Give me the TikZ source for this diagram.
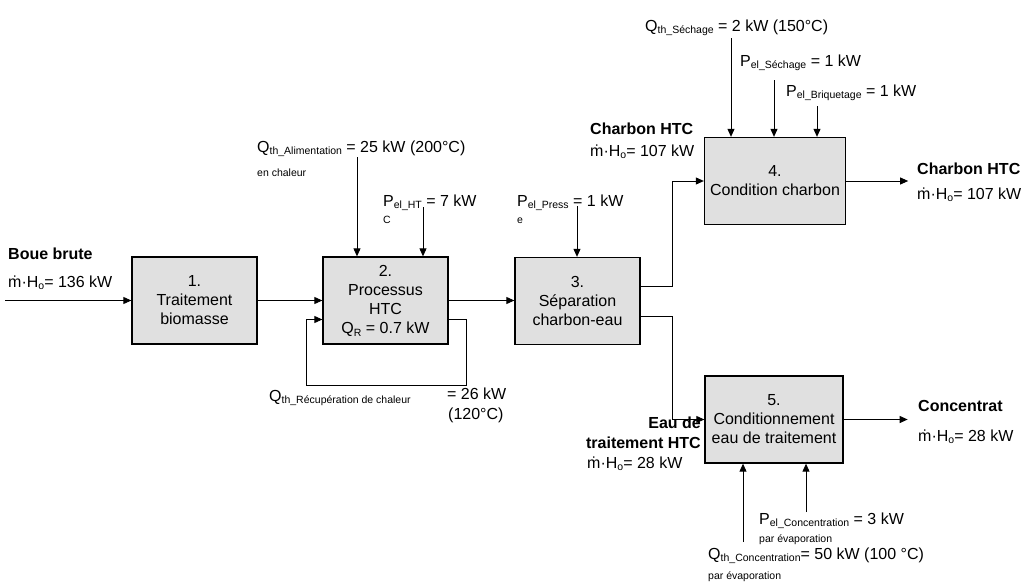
\documentclass[tikz,border=0pt]{standalone}
\usepackage{fontspec}
\setmainfont{Liberation Sans}
\usetikzlibrary{arrows.meta,calc}
\definecolor{boxgray}{HTML}{E0E0E0}
\newcommand\subtxt[1]{\raisebox{-0.35ex}{\fontsize{10.5}{12}\selectfont #1}}
\newcommand\mH{ṁ·H\subtxt{o}}

\begin{document}
\begin{tikzpicture}[
  x=1pt,y=-1pt,
  font=\fontsize{16}{19}\selectfont,
  proc/.style={draw=black,line width=1.3pt,fill=boxgray,align=center,inner sep=0pt,minimum width=125pt,minimum height=87pt},
  lbl/.style={anchor=base west,inner sep=0pt},
  flow/.style={lbl,font=\fontsize{16}{19}\selectfont\bfseries},
  note/.style={lbl,font=\fontsize{10.5}{12}\selectfont},
  arr/.style={-{Triangle[length=8pt,width=7pt]},line width=0.9pt}]
\useasboundingbox (0,0) rectangle (1027,581);
% process chain
\node[proc] (b1) at (194.5,300.5) {1.\\ Traitement\\ biomasse};
\node[proc] (b2) at (385.5,300.5) {2.\\ Processus\\ HTC\\ Q\subtxt{R} = 0.7 kW};
\node[proc] (b3) at (577.5,301) {3.\\ Séparation\\ charbon-eau};
\node[proc,minimum width=141pt] (b4) at (775,181) {4.\\ Condition charbon};
\node[proc,minimum width=138pt] (b5) at (774,419.5) {5.\\ Conditionnement\\ eau de traitement};
\coordinate (in) at (5,300.5);
\draw[arr] (in) -- (b1.west);
\draw[arr] (b1) -- (b2);
\draw[arr] (b2.east) -- (b2.east -| b3.west);
\draw[arr] ([yshift=15pt]b3.east) -- ++(32,0) |- (b4.west);
\draw[arr] ([yshift=-15pt]b3.east) -- ++(32,0) |- (b5.west);
\draw[arr] (b4.east) -- ++(62,0);
\draw[arr] (b5.east) -- ++(64,0);
% heat recovery loop
\draw[arr] ([yshift=-19pt]b2.east) -- ++(18,0) -- ++(0,66) -| ([xshift=-16pt,yshift=-19pt]b2.west) -- ([yshift=-19pt]b2.west);
\node[lbl] (qrec) at (269,401) {Q\subtxt{th\_Récupération de chaleur}};
\node[lbl] (qrecv) at (447,399) {= 26 kW};
\node[lbl] (qrect) at (448,419) {(120°C)};
% inputs
\node[flow] (boue) at (8,259) {Boue brute};
\node[lbl] (bouev) at (8,287) {\mH = 136 kW};
\coordinate (qa) at (357,157);
\coordinate (pa) at (423,207);
\coordinate (pp) at (577,206);
\draw[arr] (qa) -- (qa |- b2.north);
\draw[arr] (pa) -- (pa |- b2.north);
\draw[arr] (pp) -- (pp |- b3.north);
\node[lbl] (qal) at (257,152) {Q\subtxt{th\_Alimentation} = 25 kW (200°C)};
\node[note] (qal2) at (257,176) {en chaleur};
\node[lbl] (phtc) at (383,206) {P\subtxt{el\_HT} = 7 kW};
\node[note] (phtc2) at (383,223) {C};
\node[lbl] (ppr) at (517,206) {P\subtxt{el\_Press} = 1 kW};
\node[note] (ppr2) at (517,223) {e};
% coal branch
\node[flow] (coal1) at (590,134) {Charbon HTC};
\node[lbl] (coal1v) at (590,156) {\mH = 107 kW};
\coordinate (qs) at (731,38);
\coordinate (ps) at (774,80);
\coordinate (pb) at (817,106);
\draw[arr] (qs) -- (qs |- b4.north);
\draw[arr] (ps) -- (ps |- b4.north);
\draw[arr] (pb) -- (pb |- b4.north);
\node[lbl] (qsl) at (645,31) {Q\subtxt{th\_Séchage} = 2 kW (150°C)};
\node[lbl] (psl) at (740,66) {P\subtxt{el\_Séchage} = 1 kW};
\node[lbl] (pbl) at (786,96) {P\subtxt{el\_Briquetage} = 1 kW};
\node[flow] (coal2) at (917,174) {Charbon HTC};
\node[lbl] (coal2v) at (917,199) {\mH = 107 kW};
% water branch
\node[flow,anchor=east,align=right,font=\fontsize{16}{20}\selectfont\bfseries] (eau) at (701,433) {Eau de\\ traitement HTC};
\node[lbl] (eauv) at (587,468) {\mH= 28 kW};
\node[flow] (conc) at (918,411) {Concentrat};
\node[lbl] (concv) at (918,441) {\mH= 28 kW};
\coordinate (qc) at (743,542);
\coordinate (pc) at (806,512);
\draw[arr] (qc) -- (qc |- b5.south);
\draw[arr] (pc) -- (pc |- b5.south);
\node[lbl] (pcl) at (759,524) {P\subtxt{el\_Concentration} = 3 kW};
\node[note] (pcl2) at (759,542) {par évaporation};
\node[lbl] (qcl) at (708,559) {Q\subtxt{th\_Concentration}= 50 kW (100 °C)};
\node[note] (qcl2) at (708,579) {par évaporation};
\end{tikzpicture}
\end{document}
